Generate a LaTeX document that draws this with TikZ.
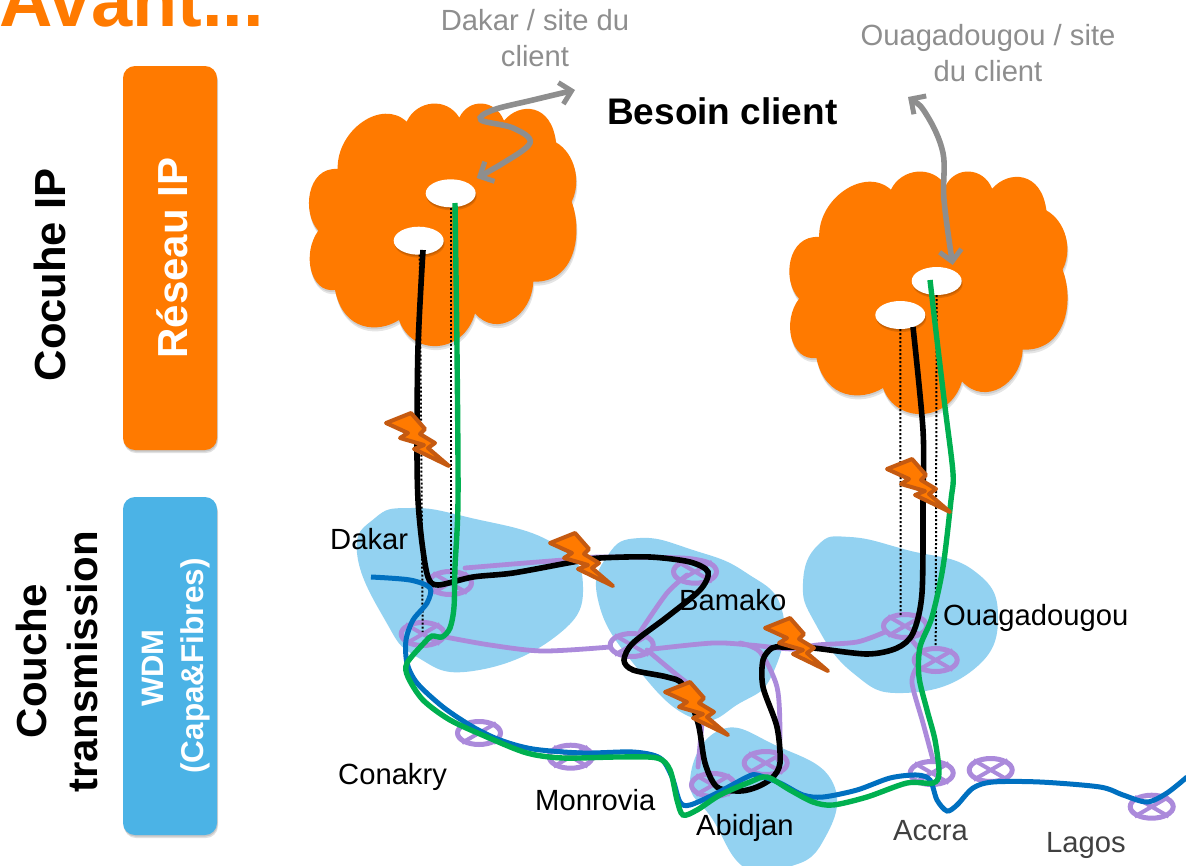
\documentclass[tikz,border=0pt]{standalone}
\usepackage{fontspec}
\setmainfont{Liberation Sans}
\usetikzlibrary{arrows.meta,shadows,shapes.geometric}
\definecolor{cloudor}{HTML}{FF7A00}
\definecolor{skyb}{HTML}{93D2F1}
\definecolor{boxb}{HTML}{4BB3E6}
\definecolor{purp}{HTML}{AB8ADB}
\definecolor{linkb}{HTML}{0070C0}
\definecolor{linkg}{HTML}{00B050}
\definecolor{boltb}{HTML}{C55A11}
\definecolor{greyt}{HTML}{8E8E8E}
\definecolor{darkt}{HTML}{404040}
\newcommand{\fs}[1]{\fontsize{#1}{#1}\selectfont}
\newcommand{\cloudpath}{(113,267) .. controls (110,150) and (245,55) .. (320,125)
 .. controls (350,60) and (440,50) .. (478,113)
 .. controls (505,55) and (585,55) .. (612,122)
 .. controls (660,65) and (755,70) .. (768,187)
 .. controls (825,220) and (845,305) .. (815,365)
 .. controls (850,460) and (825,610) .. (700,605)
 .. controls (695,710) and (590,775) .. (525,700)
 .. controls (490,825) and (335,830) .. (297,720)
 .. controls (235,760) and (130,755) .. (105,630)
 .. controls (30,640) and (5,520) .. (55,452)
 .. controls (5,400) and (20,260) .. (113,267) -- cycle}
\newcommand{\boltpath}{(0,0) -- (25,-10) -- (39,6) -- (34,11) -- (49,20) -- (42,25) -- (63,43) -- (28,26) -- (38,22) -- (14,15) -- (22,10) -- cycle}
\tikzset{
 softsh/.style={preaction={general shadow={fill=black,opacity=.12,shadow xshift=.5pt,shadow yshift=-1.5pt}},
                preaction={general shadow={fill=black,opacity=.12,shadow xshift=1pt,shadow yshift=-3pt}}},
 sidebox/.style={rounded corners=12pt,minimum width=94pt,inner sep=0pt,outer sep=0pt,softsh},
 site/.style={ellipse,fill=white,minimum width=50pt,minimum height=28pt,inner sep=0pt,softsh},
 wdm/.style={ellipse,draw=purp,line width=5pt,minimum width=43pt,minimum height=23pt,inner sep=0pt},
 wdmx/.style={draw=purp,line width=4pt},
 plink/.style={draw=purp,line width=4.8pt,line cap=round},
 blink/.style={draw=black,line width=5.6pt},
 ulink/.style={draw=linkb,line width=5pt},
 glink/.style={draw=linkg,line width=5.4pt},
 dots/.style={draw=black,line width=2pt,dash pattern=on 2pt off 2pt},
 ga/.style={draw=greyt,line width=5.6pt,{Straight Barb[length=11pt,width=22pt,line width=5pt]}-{Straight Barb[length=11pt,width=22pt,line width=5pt]}},
 bolt/.style={fill=cloudor,draw=boltb,line width=4pt,line join=round},
 lab/.style={anchor=base west,inner sep=0pt,font=\fs{29.2}},
 glab/.style={align=center,inner sep=0pt,text=greyt,font=\fs{29.2}},
 rot/.style={rotate=90,anchor=base,inner sep=0pt,font=\bfseries\fs{42}},
}
\begin{document}
\begin{tikzpicture}[x=1pt,y=-1pt]
\useasboundingbox (0,0) rectangle (1186,865);
\clip (0,0) rectangle (1186,865);
% title and side labels
\node[anchor=base west,inner sep=0pt,text=cloudor,font=\bfseries\fs{74}] (avant) at (-1,26) {Avant...};
\node[sidebox,fill=cloudor,minimum height=384pt] (ipbox) at (170,258) {};
\node[sidebox,fill=boxb,minimum height=338pt] (wdmbox) at (170,666) {};
\node[rot,text=white] (ipt) at (187,258) {Réseau IP};
\node[rot,text=white,font=\bfseries\fs{31}] (wdmt) at (163,668) {WDM};
\node[rot,text=white,font=\bfseries\fs{31.5}] (capa) at (203,666) {(Capa\&Fibres)};
\node[rot,font=\bfseries\fs{43.5}] (coip) at (65,275) {Cocuhe IP};
\node[rot] (cot) at (46,661) {Couche};
\node[rot] (cotr) at (97,662) {transmission};
% clouds
\begin{scope}[shift={(300,80)},x=.3333pt,y=-.3333pt]
 \fill[black,opacity=.1] [shift={(3,12)}] \cloudpath;
 \fill[black,opacity=.1] [shift={(1,6)}] \cloudpath;
 \fill[cloudor] \cloudpath;
\end{scope}
\begin{scope}[shift={(780,148)},x=.3467pt,y=-.3333pt]
 \fill[black,opacity=.1] [shift={(3,12)}] \cloudpath;
 \fill[black,opacity=.1] [shift={(1,6)}] \cloudpath;
 \fill[cloudor] \cloudpath;
\end{scope}
\node[site] (d1) at (450.7,193.3) {};
\node[site] (d2) at (418.7,240.7) {};
\node[site] (o1) at (936.7,281) {};
\node[site] (o2) at (900.3,315) {};
% regions
\fill[skyb] plot[smooth cycle,tension=.8] coordinates {(357,553) (375,518) (410,508) (467,517) (553,543) (583,587) (555,637) (473,671) (417,657) (385,620)};
\fill[skyb] plot[smooth cycle,tension=.8] coordinates {(598,600) (608,555) (640,538) (693,550) (745,572) (782,610) (773,673) (740,703) (693,718) (633,663)};
\fill[skyb] plot[smooth cycle,tension=.8] coordinates {(690,780) (720,730) (775,745) (833,783) (822,843) (785,868) (745,868) (713,820)};
\fill[skyb] plot[smooth cycle,tension=.8] coordinates {(803,583) (818,545) (850,537) (907,550) (973,570) (998,617) (973,670) (903,693) (853,673) (815,623)};
% purple fibre
\draw[plink] plot[smooth] coordinates {(465,568) (513,564) (563,560) (600,557) (683,558) (705,562)};
\draw[plink] plot[smooth] coordinates {(440,636) (490,645) (543,651) (610,647)};
\draw[plink] plot[smooth] coordinates {(640,632) (667,593) (687,575)};
\draw[plink] plot[smooth] coordinates {(647,650) (677,675) (690,685)};
\draw[plink] plot[smooth] coordinates {(702,723) (698,767)};
\draw[plink] plot[smooth] coordinates {(653,649) (713,643) (750,645) (793,649) (817,645) (857,642) (885,632)};
\draw[plink] plot[smooth] coordinates {(740,643) (760,652) (777,687) (780,733) (778,760)};
\draw[plink] plot[smooth] coordinates {(910,638) (920,650)};
\draw[plink] plot[smooth] coordinates {(917,667) (912,683) (923,723) (933,760)};
\foreach \n/\p in {w1/{450,583},w2/{422.7,634},w3/{479,733},w4/{570.7,756.7},w5/{695,571.7},w6/{631.7,645},w7/{713,785},w8/{765.7,763},w9/{905,626},w10/{935.7,660},w11/{931.7,773},w12/{990.7,770},w13/{1151.7,806.7}}{
 \node[wdm] (\n) at (\p) {};
 \draw[wdmx] (\n.30) -- (\n.210) (\n.150) -- (\n.-30);
}
% dotted projections
\draw[dots] (d2) ++(1,14) -- (w2.north |- 0,632);
\draw[dots] (d1.south) -- (450.7,578);
\draw[dots] (o2.south) -- (900.7,615);
\draw[dots] (o1.south) -- (w10.north);
% black circuit
\draw[blink] plot[smooth,tension=.5] coordinates {(423,250) (418,347) (417,447) (418,500) (422,543) (428,577) (438,585) (473,577) (513,573) (573,562) (600,558) (650,557) (690,562) (708,572) (700,590) (667,617) (633,643) (624,660) (633,670) (667,677) (683,685) (698,723) (705,763) (717,787) (740,791) (757,787) (772,778) (780,763) (777,727) (763,687) (763,660) (772,648) (783,647) (813,648) (867,654) (897,648) (913,633) (922,593) (923,500) (923,430) (913,327)};
% blue fibre
\draw[ulink] plot[smooth,tension=.5] coordinates {(371,577) (410,580) (430,588) (427,603) (413,620) (406,640) (407,663) (417,683) (443,707) (473,727) (500,740) (533,749) (583,753) (633,752) (660,758) (672,777) (680,802) (690,805) (717,793) (747,777) (757,775) (780,783) (803,795) (823,797) (857,790) (890,778) (917,775) (930,780) (937,800) (947,811) (957,805) (973,788) (993,782) (1040,782) (1100,787) (1123,795) (1147,802) (1167,793) (1187,777)};
% green circuit
\draw[glink] plot[smooth,tension=.5] coordinates {(455,203) (457,350) (458,500) (455,567) (454,607) (450,628) (442,637) (432,636) (425,642) (407,663) (408,677) (423,700) (450,720) (487,737) (527,753) (563,758) (617,757) (657,758) (670,770) (677,800) (683,815) (697,810) (720,795) (750,782) (767,777) (790,790) (813,802) (833,805) (867,797) (907,783) (933,783) (939,773) (935,740) (927,710) (919,677) (920,647) (932,617) (943,567) (951,500) (953,473) (945,407) (937,340) (930,280)};
% faults
\foreach \b/\p in {b1/{386,423},b2/{550,543},b3/{665,692},b4/{765,628},b5/{887,469}}{
 \begin{scope}[shift={(\p)}]
  \draw[bolt] \boltpath;
 \end{scope}
}
% client arrows
\draw[ga] plot[smooth,tension=.6] coordinates {(476.7,178) (500,165) (530,143) (513,128) (481,120) (493,110) (533,100) (575,90)};
\draw[ga] plot[smooth,tension=.6] coordinates {(908,97) (926.7,115) (943,153) (944,200) (952.7,265)};
% labels
\node[anchor=base west,inner sep=0pt,font=\bfseries\fs{37}] (besoin) at (607,124) {Besoin client};
\node[glab] (gdak) at (535,38) {Dakar / site du\\[6pt]client};
\node[glab] (gouag) at (988,53) {Ouagadougou / site\\[6pt]du client};
\node[lab] (ldak) at (330,549) {Dakar};
\node[lab] (lbam) at (679,610) {Bamako};
\node[lab] (loua) at (943,625) {Ouagadougou};
\node[lab] (lcon) at (338,784) {Conakry};
\node[lab] (lmon) at (535,810) {Monrovia};
\node[lab] (labi) at (696,835) {Abidjan};
\node[lab,text=darkt] (lacc) at (893,840) {Accra};
\node[lab,text=darkt] (llag) at (1046,852) {Lagos};
\end{tikzpicture}
\end{document}
